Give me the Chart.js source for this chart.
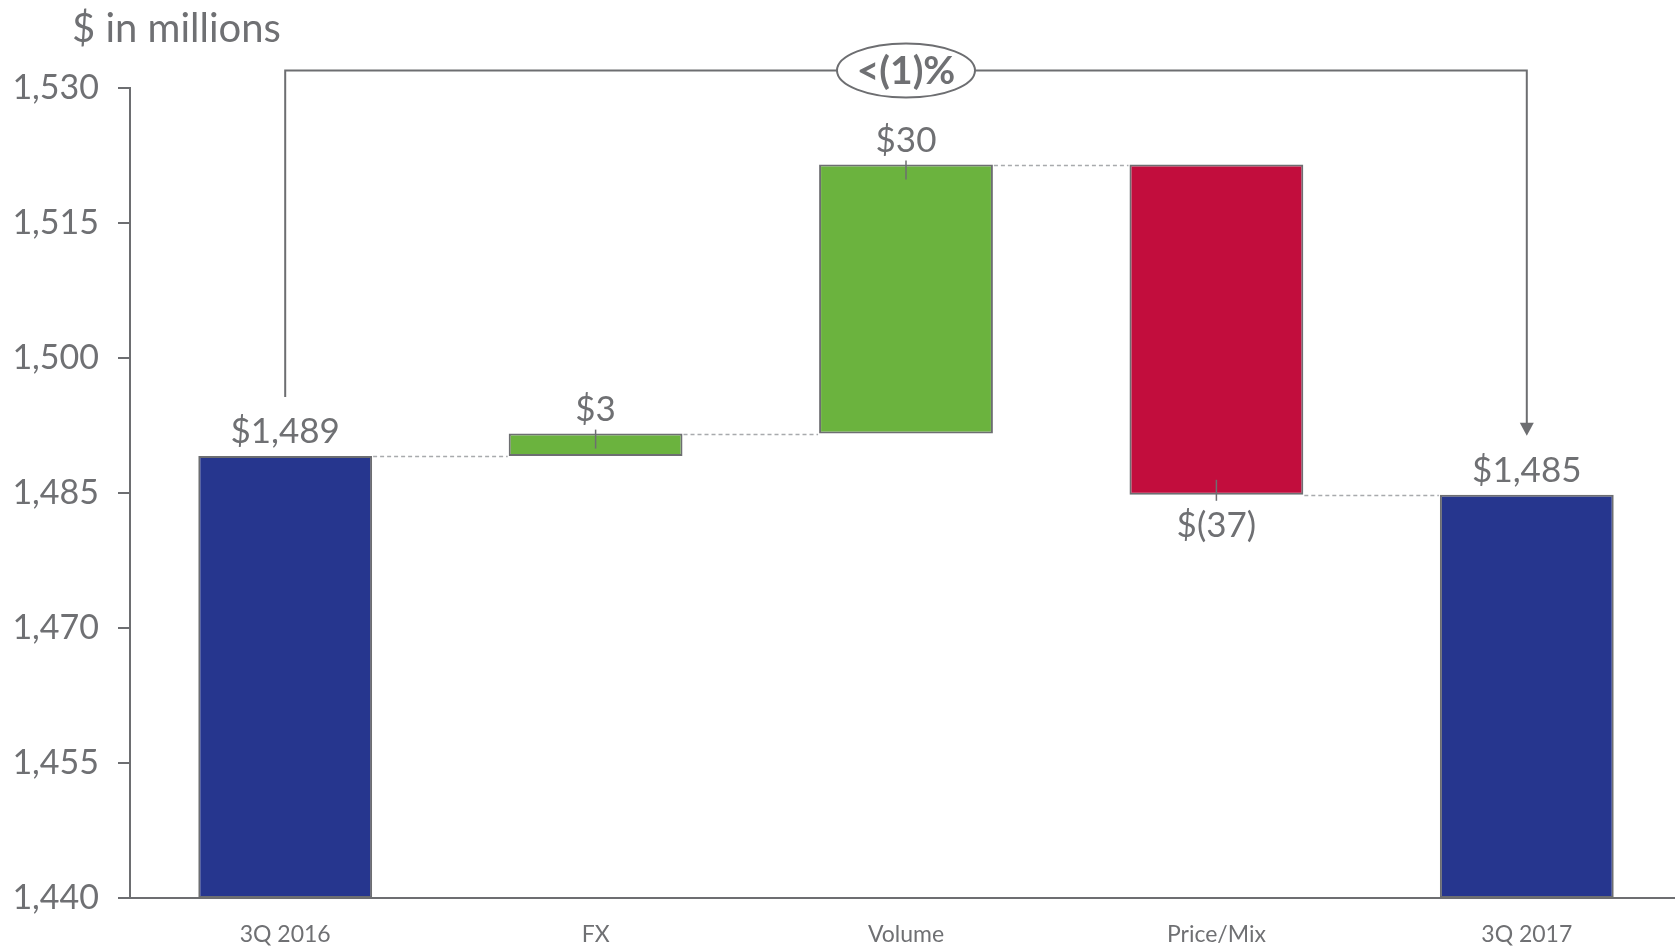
<!DOCTYPE html>
<html>
<head>
<meta charset="utf-8">
<script src="https://cdn.jsdelivr.net/npm/chart.js@4.4.1/dist/chart.umd.min.js"></script>
<style>
  html, body { margin: 0; padding: 0; background: #ffffff; overflow: hidden; }
  #wrap { width: 1675px; height: 948px; overflow: hidden; position: relative; }
  canvas { display: block; }
</style>
</head>
<body>
<div id="wrap"><canvas id="c" width="1682" height="948"></canvas></div>
<script>
// ---- data ----
const categories  = ['3Q 2016', 'FX', 'Volume', 'Price/Mix', '3Q 2017'];
const barLows     = [1440, 1489.1, 1491.6, 1484.8, 1440];
const barHighs    = [1489.1, 1491.6, 1521.5, 1521.5, 1484.8];
const barKinds    = ['total', 'increase', 'increase', 'decrease', 'total'];
const valueLabels = ['$1,489', '$3', '$30', '$(37)', '$1,485'];
const yMin = 1440, yMax = 1530, yStep = 15;
const unitLabel = '$ in millions';
const changeLabel = '<(1)%';

// ---- styles ----
const GRAY = '#6d6e71';
const TEXT = '#6f7073';
const FONT = 'Lato, "Open Sans", sans-serif';
const kindColor = { total: '#26368e', increase: '#6bb33e', decrease: '#c20d3d' };

const floating = categories.map((c, i) => [barLows[i], barHighs[i]]);

const overlay = {
  id: 'overlay',
  afterDatasetsDraw(chart) {
    const ctx = chart.ctx;
    const x = chart.scales.x, y = chart.scales.y;
    const meta = chart.getDatasetMeta(0);
    ctx.save();

    // dashed connectors
    ctx.strokeStyle = '#a8aaad';
    ctx.lineWidth = 1.5;
    ctx.setLineDash([4, 3]);
    for (let i = 0; i < categories.length - 1; i++) {
      const b = meta.data[i], n = meta.data[i + 1];
      const level = (barKinds[i] === 'decrease') ? barLows[i] : barHighs[i];
      const py = Math.round(y.getPixelForValue(level)) + 0.5;
      ctx.beginPath();
      ctx.moveTo(b.x + b.width / 2 + 1, py);
      ctx.lineTo(n.x - n.width / 2 - 1, py);
      ctx.stroke();
    }
    ctx.setLineDash([]);

    // value labels + leader ticks
    ctx.fillStyle = TEXT;
    ctx.font = '35px ' + FONT;
    ctx.textAlign = 'center';
    ctx.textBaseline = 'alphabetic';
    for (let i = 0; i < categories.length; i++) {
      const bx = meta.data[i].x;
      const top = y.getPixelForValue(barHighs[i]);
      const bot = y.getPixelForValue(barLows[i]);
      if (barKinds[i] === 'decrease') {
        ctx.fillText(valueLabels[i], bx, bot + 42);
        ctx.strokeStyle = GRAY; ctx.lineWidth = 1.5;
        ctx.beginPath(); ctx.moveTo(bx, bot - 15); ctx.lineTo(bx, bot + 6); ctx.stroke();
      } else {
        ctx.fillText(valueLabels[i], bx, top - 13);
        if (barKinds[i] === 'increase') {
          ctx.strokeStyle = GRAY; ctx.lineWidth = 1.5;
          ctx.beginPath(); ctx.moveTo(bx, top - 4); ctx.lineTo(bx, top + 15); ctx.stroke();
        }
      }
    }

    // unit label
    ctx.textAlign = 'left';
    ctx.textBaseline = 'middle';
    ctx.font = '40px ' + FONT;
    ctx.fillText(unitLabel, 72, 29);

    // bracket with arrow
    const area = chart.chartArea;
    const lineY = area.top - 17.5;
    const x0 = meta.data[0].x, x1 = meta.data[categories.length - 1].x;
    const y0 = y.getPixelForValue(barHighs[0]) - 59;
    const y1 = y.getPixelForValue(barHighs[categories.length - 1]) - 59;
    ctx.strokeStyle = GRAY;
    ctx.lineWidth = 2;
    ctx.beginPath();
    ctx.moveTo(x0, y0);
    ctx.lineTo(x0, lineY);
    ctx.lineTo(x1, lineY);
    ctx.lineTo(x1, y1 - 12);
    ctx.stroke();
    ctx.fillStyle = GRAY;
    ctx.beginPath();
    ctx.moveTo(x1 - 7, y1 - 13);
    ctx.lineTo(x1 + 7, y1 - 13);
    ctx.lineTo(x1, y1);
    ctx.closePath();
    ctx.fill();

    // ellipse with change label
    const ex = meta.data[2].x;
    ctx.beginPath();
    ctx.ellipse(ex, lineY, 69, 27, 0, 0, Math.PI * 2);
    ctx.fillStyle = '#ffffff';
    ctx.fill();
    ctx.lineWidth = 2;
    ctx.strokeStyle = GRAY;
    ctx.stroke();
    ctx.fillStyle = TEXT;
    ctx.font = 'bold 39px ' + FONT;
    ctx.textAlign = 'center';
    ctx.textBaseline = 'middle';
    ctx.fillText(changeLabel, ex, lineY + 1);

    ctx.restore();
  }
};

new Chart(document.getElementById('c'), {
  type: 'bar',
  data: {
    labels: categories,
    datasets: [{
      data: floating,
      backgroundColor: barKinds.map(k => kindColor[k]),
      borderColor: GRAY,
      borderWidth: 2,
      borderSkipped: false,
      barPercentage: 0.56,
      categoryPercentage: 1.0
    }]
  },
  options: {
    responsive: false,
    animation: false,
    layout: { padding: { top: 88, right: 0, bottom: 0, left: 0 } },
    plugins: { legend: { display: false }, tooltip: { enabled: false } },
    scales: {
      x: {
        grid: { display: false, drawTicks: false },
        border: { display: true, color: GRAY, width: 2 },
        ticks: { color: TEXT, font: { family: FONT, size: 23 }, padding: 23 },
        afterFit(s) { s.height = 50; }
      },
      y: {
        min: yMin, max: yMax,
        grid: { drawOnChartArea: false, drawTicks: true, tickLength: 12, color: GRAY, lineWidth: 2 },
        border: { display: true, color: GRAY, width: 2 },
        ticks: {
          stepSize: yStep,
          color: TEXT,
          font: { family: FONT, size: 34 },
          padding: 19,
          callback: v => v.toLocaleString('en-US')
        },
        afterFit(s) { s.width = 130; }
      }
    }
  },
  plugins: [overlay]
});
</script>
</body>
</html>
